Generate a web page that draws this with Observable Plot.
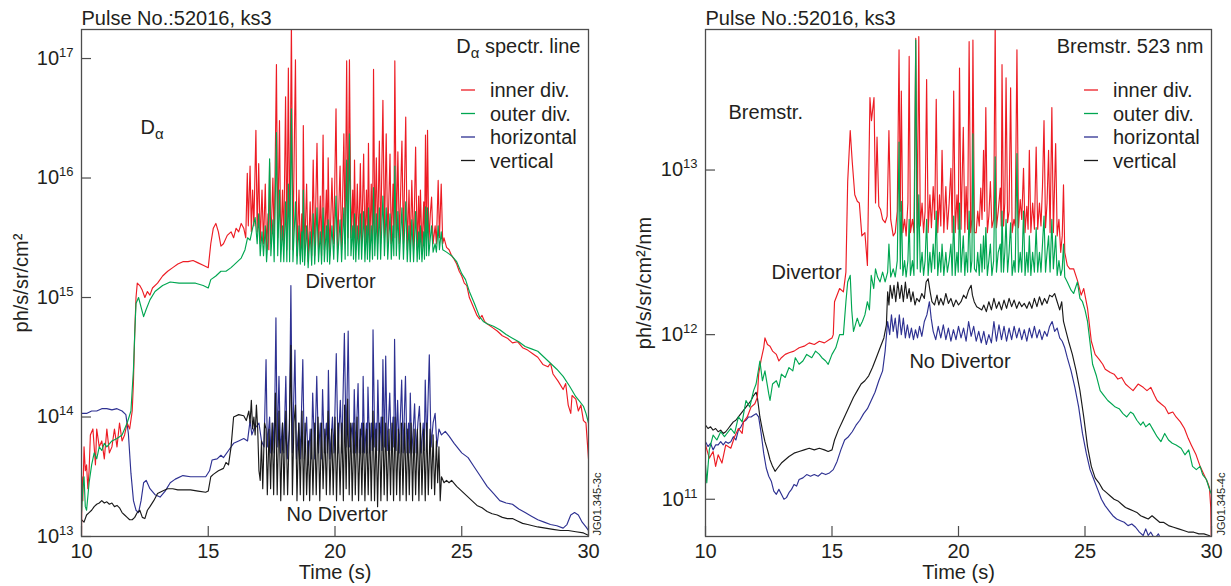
<!DOCTYPE html>
<html>
<head>
<meta charset="utf-8">
<script src="https://cdn.jsdelivr.net/npm/d3@7"></script>
<script src="https://cdn.jsdelivr.net/npm/@observablehq/plot@0.6"></script>
<style>
  html, body { margin: 0; padding: 0; background: #fff; }
  #wrap { display: flex; width: 1231px; height: 586px; }
  #wrap svg { overflow: visible; }
</style>
</head>
<body>
<div id="wrap"></div>
<script>
// ---- Shared categories / ticks ----
const seriesNames = ["inner div.", "outer div.", "horizontal", "vertical"];
const seriesColors = ["#ed1c24", "#00a651", "#2e3192", "#1a1a1a"];
const xTicks = [10, 15, 20, 25, 30];
const timeLabel = "Time (s)";
const pulseLabel = "Pulse No.:52016, ks3";

// ---- Left panel: D-alpha (values are [time s, log10 ph/s/sr/cm²]) ----
const daYTicks = [1e13, 1e14, 1e15, 1e16, 1e17];
const daYDomain = [1e13, 1.75e17];
const daInner = [
[10.0,13.0],[10.02,13.5],[10.05,13.3],[10.1,13.75],[10.15,13.55],[10.2,13.6],[10.25,13.4],[10.3,13.55],[10.35,13.85],[10.45,13.9],[10.55,13.6],[10.6,13.9],[10.7,13.75],[10.8,13.8],[10.9,13.65],[11.0,13.9],[11.1,13.7],[11.2,13.75],[11.3,13.9],[11.4,13.75],[11.5,13.95],[11.6,13.8],[11.7,13.85],[11.8,13.95],[11.9,13.9],[12.0,14.05],[12.05,14.3],[12.1,14.7],[12.15,15.0],[12.2,15.12],[12.3,15.1],[12.4,15.06],[12.5,15.0],[12.6,15.05],[12.7,15.02],[12.8,15.08],[13.0,15.12],[13.2,15.18],[13.4,15.22],[13.6,15.25],[13.8,15.28],[14.0,15.3],[14.2,15.3],[14.4,15.31],[14.6,15.29],[14.8,15.27],[15.0,15.25],
[15.1,15.45],[15.2,15.58],[15.3,15.62],[15.4,15.55],[15.5,15.43],[15.6,15.45],[15.75,15.52],[15.9,15.55],[16.0,15.5],[16.1,15.58],[16.2,15.55],[16.3,15.62],[16.4,15.58],[16.48,15.5],
[16.54,16.04],[16.58,15.6],[16.65,16.1],[16.7,15.55],[16.75,15.9],[16.8,15.6],[16.88,16.4],[16.93,15.55],[16.99,16.12],[17.05,15.45],[17.12,15.9],[17.18,15.45],[17.25,15.95],[17.3,15.4],[17.36,15.7],[17.39,15.4],[17.42,16.13],[17.47,15.45],[17.55,16.0],[17.6,15.45],[17.69,16.95],[17.74,15.5],[17.81,16.48],[17.86,15.4],[17.93,15.9],[17.98,15.45],[18.05,16.68],[18.1,15.4],[18.16,16.92],[18.21,15.4],[18.28,17.3],[18.34,15.4],[18.44,16.99],[18.5,15.35],[18.58,15.9],[18.63,15.35],[18.69,15.7],[18.72,15.4],[18.75,16.44],[18.8,15.35],[18.88,15.95],[18.94,15.3],[19.02,15.8],[19.08,15.35],[19.14,16.15],[19.2,15.35],[19.29,16.29],[19.35,15.4],[19.42,15.85],[19.47,15.35],[19.53,16.36],[19.58,15.4],[19.66,15.9],[19.7,15.4],[19.73,16.17],[19.79,15.35],[19.88,16.0],[19.95,15.45],[20.04,16.58],[20.1,15.4],[20.2,16.1],[20.26,15.4],[20.35,16.37],[20.4,15.45],[20.46,16.98],[20.51,15.5],[20.57,16.99],[20.63,15.5],[20.7,15.9],[20.73,15.45],[20.77,16.15],[20.82,15.4],[20.88,15.95],[20.94,15.45],[21.0,16.12],[21.05,15.45],[21.13,16.2],[21.18,15.4],[21.24,15.9],[21.28,15.45],[21.32,16.29],[21.37,15.4],[21.43,15.95],[21.48,15.45],[21.52,16.91],[21.57,15.5],[21.63,16.17],[21.68,15.45],[21.75,16.31],[21.8,15.45],[21.89,16.65],[21.95,15.5],[22.02,16.37],[22.08,15.45],[22.17,16.2],[22.22,15.45],[22.29,15.95],[22.32,15.5],[22.36,16.98],[22.42,15.5],[22.48,16.22],[22.54,15.45],[22.64,16.31],[22.7,15.45],[22.79,16.51],[22.85,15.4],[22.92,15.9],[22.97,15.4],[23.03,15.98],[23.1,15.4],[23.18,16.26],[23.24,15.4],[23.3,15.85],[23.33,15.45],[23.37,15.9],[23.43,15.4],[23.5,15.8],[23.53,15.45],[23.57,16.36],[23.61,15.5],[23.65,16.4],[23.7,15.45],[23.76,15.7],[23.81,15.84],[23.87,15.45],[23.95,15.6],[24.0,15.45],[24.07,15.98],[24.12,15.5],[24.19,15.95],[24.25,15.45],[24.3,15.5],[24.4,15.42],[24.5,15.4],[24.6,15.35],[24.7,15.32],[24.8,15.28],[24.9,15.22],[25.0,15.18],
[25.1,15.12],[25.2,15.1],[25.3,15.0],[25.4,14.95],[25.5,14.9],[25.6,14.85],[25.7,14.82],[25.8,14.85],[25.9,14.8],[26.0,14.78],[26.2,14.75],[26.4,14.72],[26.6,14.68],[26.8,14.66],[27.0,14.62],[27.2,14.63],[27.4,14.58],[27.6,14.56],[27.8,14.53],[28.0,14.5],[28.2,14.44],[28.4,14.42],[28.5,14.45],[28.6,14.36],[28.8,14.3],[29.0,14.23],[29.1,14.28],[29.2,14.1],[29.3,14.03],[29.35,14.18],[29.5,14.15],[29.6,14.05],[29.7,14.1],[29.8,13.97],[29.9,13.95],[29.95,13.8],[30.0,13.65]
];
const daOuter = [
[10.0,13.2],[10.05,13.4],[10.1,13.5],[10.15,13.25],[10.2,13.22],[10.3,13.45],[10.4,13.6],[10.5,13.7],[10.6,13.65],[10.7,13.75],[10.8,13.72],[10.9,13.78],[11.0,13.75],[11.2,13.8],[11.4,13.82],[11.6,13.85],[11.8,13.95],[11.95,14.05],[12.05,14.4],[12.1,14.7],[12.15,14.95],[12.25,15.0],[12.35,14.92],[12.45,14.84],[12.55,14.9],[12.7,14.98],[12.9,15.05],[13.2,15.1],[13.5,15.13],[13.85,15.12],[14.2,15.12],[14.5,15.12],[14.8,15.1],[15.0,15.08],[15.1,15.15],[15.3,15.18],[15.5,15.22],[15.7,15.22],[15.9,15.25],[16.1,15.29],[16.3,15.33],[16.45,15.4],[16.55,15.5],[16.65,15.48],[16.75,15.58],[16.85,15.67],[16.93,15.45],
[16.99,15.7],[17.05,15.35],[17.12,15.55],[17.18,15.35],[17.25,15.6],[17.3,15.3],[17.36,15.5],[17.42,16.16],[17.47,15.35],[17.55,15.65],[17.6,15.3],[17.69,16.38],[17.74,15.35],[17.81,15.9],[17.86,15.3],[17.93,15.6],[17.98,15.3],[18.05,15.8],[18.1,15.3],[18.16,15.95],[18.21,15.3],[18.28,16.58],[18.34,15.3],[18.44,15.8],[18.5,15.28],[18.58,15.6],[18.63,15.28],[18.69,15.55],[18.72,15.3],[18.75,15.9],[18.8,15.27],[18.88,15.6],[18.94,15.25],[19.02,15.55],[19.08,15.27],[19.14,15.7],[19.2,15.28],[19.29,15.75],[19.35,15.3],[19.42,15.55],[19.47,15.28],[19.53,15.75],[19.58,15.3],[19.66,15.6],[19.7,15.3],[19.73,15.65],[19.79,15.28],[19.88,15.6],[19.95,15.32],[20.04,15.85],[20.1,15.3],[20.2,15.65],[20.26,15.3],[20.35,15.75],[20.4,15.32],[20.46,16.15],[20.51,15.35],[20.57,16.37],[20.63,15.35],[20.7,15.6],[20.73,15.32],[20.77,15.7],[20.82,15.3],[20.88,15.6],[20.94,15.32],[21.0,15.7],[21.05,15.32],[21.13,15.72],[21.18,15.3],[21.24,15.6],[21.28,15.32],[21.32,15.75],[21.37,15.3],[21.43,15.6],[21.48,15.32],[21.52,15.92],[21.57,15.35],[21.63,15.7],[21.68,15.32],[21.75,15.75],[21.8,15.32],[21.89,15.85],[21.95,15.35],[22.02,15.75],[22.08,15.32],[22.17,15.7],[22.22,15.32],[22.29,15.6],[22.32,15.35],[22.36,16.1],[22.42,15.35],[22.48,15.72],[22.54,15.32],[22.64,15.75],[22.7,15.32],[22.79,15.8],[22.85,15.3],[22.92,15.6],[22.97,15.3],[23.03,15.65],[23.1,15.3],[23.18,15.72],[23.24,15.3],[23.3,15.55],[23.33,15.32],[23.37,15.6],[23.43,15.3],[23.5,15.55],[23.53,15.32],[23.57,15.76],[23.61,15.35],[23.65,15.75],[23.7,15.35],[23.76,15.5],[23.81,15.6],[23.87,15.38],[23.95,15.45],[24.0,15.38],[24.07,15.6],[24.12,15.4],[24.19,15.55],[24.25,15.4],[24.4,15.38],[24.6,15.35],[24.8,15.3],[25.0,15.2],[25.15,15.15],[25.3,15.05],[25.5,14.95],[25.7,14.84],[25.85,14.8],[26.0,14.78],[26.25,14.76],[26.5,14.73],[26.75,14.69],[27.0,14.66],[27.25,14.63],[27.5,14.59],[27.75,14.57],[28.0,14.55],[28.25,14.5],[28.5,14.45],[28.75,14.4],[29.0,14.34],[29.25,14.26],[29.5,14.17],[29.65,14.13],[29.8,14.09],[29.9,14.03],[30.0,13.95]
];
const daHoriz = [
[10.0,14.03],[10.2,14.03],[10.4,14.05],[10.6,14.05],[10.8,14.07],[11.0,14.07],[11.2,14.06],[11.4,14.07],[11.6,14.05],[11.75,14.02],[11.85,13.86],[11.95,13.53],[12.05,13.3],[12.15,13.22],[12.25,13.2],[12.35,13.3],[12.45,13.45],[12.55,13.47],[12.7,13.4],[12.9,13.35],[13.1,13.33],[13.3,13.38],[13.5,13.45],[13.7,13.48],[14.0,13.51],[14.3,13.5],[14.6,13.5],[14.9,13.5],[15.05,13.55],[15.15,13.64],[15.35,13.65],[15.5,13.68],[15.6,13.66],[15.8,13.72],[16.0,13.78],[16.2,13.8],[16.4,13.82],[16.55,13.8],[16.65,13.97],[16.72,13.85],[16.8,13.9],[16.9,13.92],[17.0,13.95],[17.1,13.8],[17.2,13.75],[17.28,14.48],[17.33,13.75],
[17.42,14.0],[17.47,13.7],[17.55,13.95],[17.6,13.7],[17.67,14.83],[17.72,13.75],[17.79,14.34],[17.85,13.7],[17.93,13.95],[17.98,13.7],[18.06,14.34],[18.12,13.65],[18.2,13.9],[18.26,15.1],[18.32,13.7],[18.42,14.56],[18.48,13.65],[18.58,13.95],[18.63,13.65],[18.73,14.48],[18.79,13.65],[18.88,14.0],[18.94,13.6],[19.02,13.9],[19.07,13.65],[19.12,14.2],[19.2,13.65],[19.28,14.34],[19.35,13.7],[19.42,13.95],[19.46,13.65],[19.51,14.23],[19.58,13.7],[19.66,13.95],[19.7,13.7],[19.74,14.39],[19.8,13.65],[19.9,14.0],[19.96,13.7],[20.05,14.53],[20.12,13.7],[20.21,14.14],[20.27,13.7],[20.37,14.7],[20.44,13.75],[20.52,14.72],[20.58,13.75],[20.68,13.95],[20.72,13.7],[20.76,14.23],[20.82,13.7],[20.91,14.28],[20.96,13.7],[21.05,13.95],[21.08,13.7],[21.11,14.34],[21.17,13.7],[21.24,13.95],[21.27,13.7],[21.3,14.25],[21.37,13.7],[21.44,13.95],[21.47,13.72],[21.5,14.73],[21.57,13.75],[21.62,13.95],[21.65,13.72],[21.69,14.31],[21.75,13.72],[21.82,14.0],[21.85,13.72],[21.89,14.48],[21.95,13.75],[22.0,14.51],[22.06,13.72],[22.16,14.2],[22.22,13.72],[22.29,14.0],[22.32,13.75],[22.35,14.65],[22.41,13.72],[22.47,14.14],[22.53,13.7],[22.63,14.31],[22.69,13.7],[22.78,14.34],[22.84,13.7],[22.9,13.95],[22.93,13.7],[22.97,14.2],[23.03,13.7],[23.1,13.95],[23.14,14.11],[23.2,13.7],[23.27,13.95],[23.33,14.09],[23.4,13.7],[23.48,13.95],[23.52,13.72],[23.56,14.31],[23.62,13.75],[23.72,14.52],[23.79,13.75],[23.87,13.95],[23.95,14.03],[24.02,13.75],[24.1,13.9],[24.2,13.85],[24.35,13.88],[24.5,13.84],[24.7,13.78],[25.0,13.7],[25.25,13.66],[25.5,13.58],[25.75,13.5],[26.0,13.42],[26.25,13.36],[26.5,13.3],[26.75,13.28],[27.0,13.27],[27.25,13.23],[27.5,13.2],[27.75,13.17],[28.0,13.14],[28.25,13.12],[28.5,13.1],[28.75,13.09],[29.0,13.07],[29.15,13.1],[29.3,13.18],[29.45,13.2],[29.6,13.18],[29.75,13.12],[29.9,13.08],[30.0,13.05]
];
const daVert = [
[10.0,13.14],[10.1,13.12],[10.2,13.18],[10.3,13.2],[10.4,13.22],[10.5,13.25],[10.6,13.27],[10.7,13.28],[10.8,13.3],[10.9,13.28],[11.0,13.29],[11.1,13.27],[11.2,13.28],[11.3,13.25],[11.4,13.26],[11.5,13.24],[11.6,13.2],[11.7,13.18],[11.8,13.16],[11.9,13.14],[12.0,13.14],[12.1,13.16],[12.2,13.2],[12.3,13.22],[12.4,13.16],[12.5,13.15],[12.6,13.22],[12.7,13.25],[12.85,13.3],[13.0,13.36],[13.2,13.38],[13.4,13.4],[13.6,13.4],[13.8,13.39],[14.0,13.39],[14.3,13.39],[14.6,13.38],[14.9,13.37],[15.0,13.38],[15.1,13.5],[15.2,13.52],[15.4,13.55],[15.6,13.57],[15.7,13.62],[15.8,13.6],[15.9,13.75],[16.0,14.0],[16.2,14.02],[16.4,14.01],[16.5,13.97],[16.6,14.05],[16.65,13.95],[16.7,14.14],[16.75,13.9],[16.8,14.0],[16.85,13.85],[16.9,14.1],[16.95,13.9],[17.0,13.55],[17.05,13.47],[17.1,13.8],
[17.15,13.4],[17.22,13.95],[17.28,13.9],[17.33,13.35],[17.4,13.9],[17.46,13.4],[17.52,13.95],[17.58,13.35],[17.65,14.2],[17.72,13.35],[17.79,14.05],[17.86,13.3],[17.93,13.95],[17.99,13.35],[18.06,14.05],[18.13,13.35],[18.2,13.9],[18.26,14.6],[18.32,13.35],[18.38,13.95],[18.44,14.1],[18.5,13.3],[18.57,13.95],[18.63,13.35],[18.7,14.05],[18.76,13.3],[18.82,13.95],[18.88,13.35],[18.95,13.8],[19.0,13.3],[19.07,13.9],[19.13,13.35],[19.2,13.95],[19.26,13.35],[19.33,14.0],[19.4,13.3],[19.47,13.95],[19.53,13.4],[19.6,13.9],[19.66,13.35],[19.73,14.05],[19.8,13.35],[19.87,13.9],[19.93,13.35],[20.0,14.0],[20.06,13.3],[20.13,13.95],[20.2,13.35],[20.27,13.95],[20.33,13.3],[20.38,14.1],[20.44,13.4],[20.5,14.15],[20.56,13.35],[20.62,13.95],[20.68,13.3],[20.75,13.95],[20.8,13.35],[20.87,14.0],[20.93,13.3],[21.0,13.9],[21.06,13.35],[21.12,13.95],[21.18,13.3],[21.25,13.9],[21.31,13.35],[21.37,13.95],[21.43,13.3],[21.5,14.05],[21.56,13.3],[21.62,13.9],[21.68,13.25],[21.75,13.95],[21.81,13.3],[21.88,14.0],[21.94,13.35],[22.0,13.95],[22.06,13.3],[22.13,13.9],[22.19,13.35],[22.25,13.95],[22.31,13.3],[22.37,14.0],[22.43,13.35],[22.5,13.9],[22.56,13.3],[22.62,13.95],[22.68,13.35],[22.75,13.95],[22.81,13.3],[22.87,13.9],[22.93,13.35],[23.0,13.95],[23.06,13.3],[23.12,13.9],[23.18,13.35],[23.25,13.9],[23.31,13.3],[23.37,13.95],[23.43,13.35],[23.5,13.9],[23.56,13.3],[23.62,13.95],[23.68,13.35],[23.75,13.9],[23.81,13.4],[23.87,13.85],[23.93,13.35],[24.0,13.8],[24.05,13.45],[24.1,13.75],[24.15,13.3],[24.2,13.5],[24.3,13.45],[24.4,13.47],[24.5,13.45],[24.6,13.47],[24.8,13.42],[25.0,13.38],[25.2,13.34],[25.4,13.3],[25.6,13.26],[25.8,13.24],[26.0,13.21],[26.2,13.19],[26.4,13.18],[26.6,13.16],[26.8,13.15],[27.0,13.15],[27.2,13.13],[27.4,13.11],[27.6,13.1],[27.8,13.09],[28.0,13.08],[28.3,13.07],[28.6,13.06],[28.9,13.05],[29.2,13.05],[29.5,13.04],[29.8,13.03],[30.0,13.01]
];
const daNotes = [
  {t: 12.33, v: 2.34e16, label: "D_α"},
  {t: 18.84, v: 1.2e15, label: "Divertor"},
  {t: 18.09, v: 1.35e13, label: "No Divertor"}
];

// ---- Right panel: Bremsstrahlung 523 nm (values are [time s, log10 ph/s/sr/cm²/nm]) ----
const brYTicks = [1e11, 1e12, 1e13];
const brYDomain = [5.94e10, 7.14e13];
const brInner = [
[10.0,11.33],[10.15,11.25],[10.3,11.29],[10.4,11.2],[10.5,11.27],[10.65,11.22],[10.8,11.33],[11.0,11.31],[11.15,11.38],[11.3,11.43],[11.45,11.4],[11.5,11.47],[11.65,11.5],[11.8,11.56],[11.95,11.58],[12.05,11.62],[12.1,11.76],[12.2,11.85],[12.3,11.92],[12.35,11.98],[12.45,11.94],[12.55,11.93],[12.65,11.9],[12.8,11.88],[12.9,11.84],[13.0,11.86],[13.15,11.88],[13.3,11.89],[13.5,11.9],[13.7,11.92],[13.9,11.93],[14.1,11.95],[14.3,11.94],[14.5,11.96],[14.7,11.95],[14.9,11.97],[15.0,11.98],[15.05,12.0],[15.1,12.2],[15.3,12.28],[15.45,12.26],[15.55,12.38],[15.62,12.93],[15.72,13.24],[15.8,13.05],[15.9,12.85],[16.0,12.81],[16.08,12.8],[16.18,12.6],[16.3,12.62],[16.4,12.42],[16.5,13.44],[16.56,13.3],[16.66,13.44],[16.72,12.8],[16.78,13.2],[16.85,12.78],[16.92,12.76],[17.0,12.7],[17.1,12.68],[17.18,12.72],
[17.25,13.24],[17.32,12.7],[17.42,12.6],[17.5,12.62],[17.58,12.75],[17.65,13.73],[17.7,12.75],[17.74,13.48],[17.8,12.62],[17.87,12.7],[17.93,12.6],[18.0,12.8],[18.05,13.69],[18.1,12.62],[18.18,12.7],[18.24,12.62],[18.31,13.8],[18.37,12.65],[18.43,13.81],[18.49,12.66],[18.56,12.8],[18.62,12.62],[18.68,12.75],[18.74,13.55],[18.8,12.62],[18.87,12.85],[18.93,12.65],[19.0,12.9],[19.06,12.7],[19.12,13.43],[19.18,12.62],[19.25,12.85],[19.3,12.66],[19.35,13.12],[19.42,12.62],[19.5,12.9],[19.56,12.64],[19.63,12.8],[19.7,13.01],[19.75,12.62],[19.81,13.48],[19.87,12.62],[19.94,12.85],[19.99,12.64],[20.04,13.62],[20.1,12.64],[20.19,13.26],[20.25,12.62],[20.3,12.9],[20.36,12.64],[20.42,13.78],[20.48,12.62],[20.53,12.7],[20.57,13.79],[20.63,12.62],[20.7,12.62],[20.76,12.75],[20.82,12.66],[20.88,12.89],[20.93,12.7],[20.99,13.12],[21.03,12.75],[21.08,13.38],[21.14,12.62],[21.2,12.72],[21.26,12.93],[21.32,12.65],[21.39,12.7],[21.45,13.9],[21.5,12.65],[21.57,12.75],[21.65,12.89],[21.69,12.66],[21.72,13.64],[21.78,12.66],[21.83,12.8],[21.88,13.56],[21.94,12.68],[22.0,12.75],[22.06,13.5],[22.12,12.62],[22.19,12.7],[22.24,12.66],[22.31,13.73],[22.37,12.65],[22.44,12.82],[22.5,12.7],[22.57,13.01],[22.63,12.62],[22.7,12.78],[22.75,12.64],[22.8,13.12],[22.86,12.62],[22.93,12.8],[23.0,12.64],[23.07,13.14],[23.13,12.64],[23.2,12.8],[23.26,12.66],[23.32,12.9],[23.38,13.3],[23.44,12.65],[23.5,12.8],[23.56,13.12],[23.62,12.62],[23.69,13.38],[23.75,12.62],[23.84,13.16],[23.9,12.6],[23.97,12.7],[24.04,12.5],[24.1,12.6],[24.15,12.91],[24.2,12.5],[24.3,12.42],[24.4,12.4],[24.55,12.4],[24.7,12.33],[24.85,12.24],[24.95,12.28],
[25.1,12.16],[25.25,11.96],[25.4,11.88],[25.56,11.85],[25.7,11.82],[25.8,11.79],[26.0,11.77],[26.15,11.76],[26.3,11.73],[26.45,11.74],[26.6,11.7],[26.75,11.68],[26.9,11.66],[27.1,11.7],[27.3,11.68],[27.45,11.66],[27.6,11.68],[27.75,11.63],[27.85,11.6],[28.0,11.58],[28.16,11.56],[28.3,11.52],[28.47,11.53],[28.6,11.5],[28.77,11.47],[28.93,11.43],[29.08,11.37],[29.2,11.33],[29.39,11.27],[29.55,11.2],[29.7,11.15],[29.85,11.1],[29.92,11.07],[29.97,10.95],[30.0,10.7]
];
const brOuter = [
[10.0,11.21],[10.05,11.1],[10.15,11.3],[10.3,11.39],[10.45,11.36],[10.6,11.41],[10.75,11.38],[11.0,11.43],[11.15,11.4],[11.3,11.5],[11.45,11.47],[11.6,11.6],[11.75,11.56],[11.9,11.66],[12.0,11.7],[12.15,11.84],[12.25,11.72],[12.35,11.78],[12.5,11.64],[12.55,11.6],[12.65,11.7],[12.8,11.72],[12.9,11.68],[13.0,11.76],[13.15,11.74],[13.3,11.8],[13.45,11.78],[13.55,11.86],[13.7,11.82],[13.85,11.84],[14.0,11.88],[14.2,11.86],[14.35,11.9],[14.5,11.88],[14.6,11.86],[14.75,11.84],[14.85,11.82],[15.0,11.88],[15.15,11.92],[15.3,12.0],[15.45,12.0],[15.55,12.2],[15.62,12.32],[15.72,12.36],[15.78,12.15],[15.85,12.02],[16.0,12.1],[16.1,12.05],[16.2,12.08],[16.3,12.12],[16.4,12.2],[16.48,12.15],[16.55,12.36],[16.65,12.28],[16.72,12.4],[16.8,12.35],[16.9,12.32],[17.0,12.38],[17.1,12.32],[17.2,12.38],
[17.25,12.55],[17.32,12.35],[17.42,12.4],[17.5,12.35],[17.58,12.45],[17.65,13.17],[17.7,12.4],[17.74,12.81],[17.8,12.36],[17.87,12.45],[17.93,12.35],[18.0,12.45],[18.05,12.7],[18.1,12.36],[18.18,12.45],[18.24,12.36],[18.31,13.79],[18.37,12.4],[18.43,12.85],[18.49,12.38],[18.56,12.5],[18.62,12.36],[18.68,12.45],[18.74,12.7],[18.8,12.36],[18.87,12.5],[18.93,12.38],[19.0,12.55],[19.06,12.4],[19.12,12.75],[19.18,12.36],[19.25,12.5],[19.3,12.38],[19.35,12.55],[19.42,12.36],[19.5,12.5],[19.56,12.38],[19.63,12.45],[19.7,12.55],[19.75,12.36],[19.81,12.72],[19.87,12.36],[19.94,12.5],[19.99,12.38],[20.04,12.8],[20.1,12.38],[20.19,12.6],[20.25,12.36],[20.3,12.5],[20.36,12.38],[20.42,12.75],[20.48,12.38],[20.53,12.45],[20.57,13.22],[20.63,12.4],[20.7,12.38],[20.76,12.5],[20.82,12.36],[20.88,12.55],[20.93,12.38],[20.99,12.6],[21.03,12.4],[21.08,12.65],[21.14,12.36],[21.2,12.45],[21.26,12.55],[21.32,12.36],[21.39,12.45],[21.45,13.08],[21.5,12.38],[21.57,12.5],[21.65,12.55],[21.69,12.38],[21.72,12.75],[21.78,12.38],[21.83,12.5],[21.88,12.7],[21.94,12.38],[22.0,12.5],[22.06,12.68],[22.12,12.36],[22.19,12.45],[22.24,12.38],[22.31,13.1],[22.37,12.38],[22.44,12.5],[22.5,12.38],[22.57,12.75],[22.63,12.36],[22.7,12.5],[22.75,12.38],[22.8,12.6],[22.86,12.36],[22.93,12.5],[23.0,12.38],[23.07,12.65],[23.13,12.38],[23.2,12.5],[23.26,12.38],[23.32,12.55],[23.38,12.72],[23.44,12.38],[23.5,12.5],[23.56,12.6],[23.62,12.38],[23.69,12.7],[23.75,12.4],[23.84,12.6],[23.9,12.36],[23.97,12.45],[24.04,12.36],[24.1,12.4],[24.15,12.55],[24.2,12.35],[24.3,12.32],[24.45,12.27],[24.55,12.25],[24.7,12.32],[24.8,12.22],[24.9,12.2],[25.0,12.15],[25.1,12.08],[25.2,11.95],[25.3,11.82],[25.45,11.75],[25.6,11.66],[25.75,11.63],[25.9,11.6],[26.05,11.58],[26.2,11.56],[26.35,11.55],[26.5,11.52],[26.65,11.5],[26.8,11.53],[26.9,11.52],[27.05,11.48],[27.2,11.45],[27.3,11.47],[27.4,11.44],[27.55,11.46],[27.7,11.42],[27.85,11.38],[28.0,11.35],[28.15,11.4],[28.3,11.36],[28.45,11.34],[28.6,11.33],[28.8,11.31],[28.95,11.27],[29.1,11.3],[29.25,11.2],[29.4,11.18],[29.55,11.2],[29.65,11.15],[29.8,11.12],[29.9,11.07],[30.0,11.03]
];
const brHoriz = [
[10.0,11.35],[10.1,11.32],[10.2,11.34],[10.3,11.3],[10.4,11.33],[10.5,11.33],[10.6,11.35],[10.7,11.33],[10.8,11.35],[10.9,11.34],[11.0,11.35],[11.1,11.38],[11.2,11.36],[11.3,11.42],[11.4,11.44],[11.5,11.47],[11.6,11.48],[11.7,11.5],[11.8,11.5],[11.9,11.51],[12.0,11.52],[12.1,11.5],[12.2,11.4],[12.3,11.28],[12.4,11.19],[12.5,11.14],[12.6,11.11],[12.7,11.05],[12.8,11.03],[12.9,11.06],[13.0,11.03],[13.1,11.0],[13.2,11.01],[13.3,11.04],[13.4,11.06],[13.5,11.09],[13.6,11.08],[13.7,11.12],[13.85,11.13],[14.0,11.15],[14.15,11.14],[14.3,11.15],[14.45,11.14],[14.6,11.16],[14.75,11.15],[14.9,11.16],[15.05,11.18],[15.2,11.23],[15.35,11.3],[15.5,11.36],[15.65,11.38],[15.8,11.41],[15.95,11.45],[16.1,11.48],[16.25,11.52],[16.4,11.55],[16.55,11.6],[16.7,11.65],[16.85,11.72],[17.0,11.78],[17.1,11.9],[17.2,12.08],[17.28,12.0],[17.35,12.12],[17.42,12.02],[17.5,12.1],[17.58,11.98],[17.66,12.12],[17.74,12.0],[17.82,12.1],[17.9,11.98],[17.98,12.06],[18.06,11.98],[18.14,12.04],[18.22,11.97],[18.3,12.03],[18.38,11.98],[18.46,12.05],[18.55,11.99],[18.65,12.08],[18.75,12.12],[18.85,12.2],[18.92,12.1],[19.0,12.02],[19.1,11.97],[19.2,12.05],[19.3,11.98],[19.4,12.06],[19.5,11.97],[19.6,12.04],[19.7,11.96],[19.8,12.03],[19.9,11.97],[20.0,12.05],[20.1,11.98],[20.2,12.04],[20.3,11.96],[20.4,12.08],[20.5,11.99],[20.6,12.05],[20.7,11.96],[20.8,12.02],[20.9,11.95],[21.0,12.02],[21.1,11.94],[21.2,12.0],[21.3,11.95],[21.4,12.08],[21.5,11.96],[21.6,12.06],[21.7,11.97],[21.8,12.05],[21.9,11.96],[22.0,12.04],[22.1,11.97],[22.2,12.05],[22.3,11.98],[22.4,12.04],[22.5,11.97],[22.6,12.03],[22.7,11.96],[22.8,12.04],[22.9,11.98],[23.0,12.05],[23.1,11.98],[23.2,12.03],[23.3,11.97],[23.4,12.02],[23.5,11.99],[23.6,12.05],[23.7,12.08],[23.8,12.02],[23.9,12.04],[24.0,11.98],[24.1,11.96],[24.2,11.92],[24.3,11.86],[24.45,11.78],[24.6,11.68],[24.75,11.56],[24.9,11.4],[25.05,11.28],[25.2,11.18],[25.35,11.12],[25.5,11.06],[25.65,11.0],[25.8,10.96],[25.95,10.93],[26.1,10.9],[26.25,10.88],[26.4,10.87],[26.55,10.86],[26.7,10.84],[26.85,10.85],[27.0,10.83],[27.15,10.8],[27.3,10.78],[27.4,10.82],[27.5,10.78],[27.6,10.8],[27.75,10.76],[27.9,10.79],[28.05,10.74],[28.2,10.72],[28.5,10.7],[29.0,10.68],[29.5,10.66],[30.0,10.65]
];
const brVert = [
[10.0,11.45],[10.1,11.43],[10.2,11.44],[10.3,11.42],[10.4,11.43],[10.5,11.41],[10.6,11.42],[10.7,11.4],[10.8,11.41],[10.9,11.43],[11.0,11.45],[11.1,11.47],[11.2,11.48],[11.3,11.5],[11.4,11.52],[11.5,11.54],[11.6,11.56],[11.7,11.58],[11.8,11.6],[11.9,11.63],[12.0,11.65],[12.05,11.62],[12.15,11.5],[12.25,11.42],[12.35,11.35],[12.45,11.3],[12.55,11.24],[12.65,11.2],[12.75,11.17],[12.85,11.19],[13.0,11.22],[13.15,11.24],[13.3,11.26],[13.5,11.28],[13.7,11.29],[13.9,11.3],[14.1,11.31],[14.3,11.3],[14.5,11.31],[14.7,11.3],[14.85,11.29],[15.0,11.3],[15.1,11.36],[15.25,11.42],[15.4,11.47],[15.55,11.52],[15.7,11.57],[15.85,11.62],[16.0,11.66],[16.15,11.7],[16.3,11.72],[16.45,11.75],[16.6,11.8],[16.75,11.86],[16.9,11.92],[17.05,11.98],[17.15,12.06],[17.2,12.26],[17.25,12.18],[17.3,12.3],[17.38,12.22],[17.45,12.3],[17.52,12.2],[17.6,12.32],[17.68,12.22],[17.75,12.3],[17.82,12.2],[17.9,12.32],[17.97,12.22],[18.05,12.28],[18.12,12.2],[18.2,12.26],[18.28,12.18],[18.35,12.22],[18.45,12.2],[18.55,12.25],[18.65,12.22],[18.72,12.32],[18.8,12.34],[18.88,12.26],[18.95,12.2],[19.05,12.18],[19.15,12.24],[19.22,12.18],[19.3,12.22],[19.4,12.18],[19.5,12.25],[19.6,12.19],[19.7,12.22],[19.8,12.17],[19.9,12.21],[20.0,12.18],[20.1,12.2],[20.2,12.24],[20.3,12.22],[20.4,12.27],[20.5,12.3],[20.55,12.24],[20.62,12.2],[20.72,12.17],[20.82,12.16],[20.92,12.15],[21.0,12.18],[21.1,12.14],[21.2,12.2],[21.3,12.15],[21.4,12.22],[21.5,12.16],[21.6,12.2],[21.7,12.15],[21.8,12.21],[21.9,12.16],[22.0,12.22],[22.1,12.17],[22.2,12.21],[22.3,12.16],[22.4,12.2],[22.5,12.17],[22.6,12.19],[22.7,12.16],[22.8,12.2],[22.9,12.16],[23.0,12.22],[23.1,12.17],[23.2,12.23],[23.3,12.18],[23.4,12.22],[23.5,12.19],[23.6,12.24],[23.7,12.23],[23.8,12.25],[23.9,12.2],[24.0,12.15],[24.08,12.2],[24.15,12.08],[24.25,12.02],[24.35,11.96],[24.5,11.88],[24.65,11.78],[24.8,11.66],[24.95,11.5],[25.1,11.32],[25.25,11.2],[25.4,11.13],[25.55,11.1],[25.7,11.06],[25.85,11.04],[26.0,11.02],[26.15,11.0],[26.3,10.99],[26.45,10.97],[26.6,10.95],[26.75,10.94],[26.9,10.93],[27.05,10.92],[27.2,10.9],[27.35,10.89],[27.5,10.88],[27.65,10.9],[27.8,10.88],[27.95,10.86],[28.1,10.86],[28.3,10.84],[28.5,10.83],[28.7,10.82],[28.9,10.81],[29.1,10.8],[29.3,10.8],[29.5,10.79],[29.7,10.79],[29.9,10.78],[30.0,10.77]
];
const brNotes = [
  {t: 10.91, v: 2.04e13, label: "Bremstr."},
  {t: 12.61, v: 2.19e12, label: "Divertor"},
  {t: 18.06, v: 6.3e11, label: "No Divertor"}
];

// ---- Drawing ----
const FONT = "'Liberation Sans', Arial, Helvetica, sans-serif";
const H = 586, MT = 29, MB = 50;
const NS = "http://www.w3.org/2000/svg";

function richText(svg) {
  svg.querySelectorAll("text").forEach(t => {
    const s = t.textContent;
    if (s.includes("^")) {
      const [b, e] = s.split("^");
      t.textContent = "";
      const a = document.createElementNS(NS, "tspan");
      a.textContent = b; t.appendChild(a);
      const c = document.createElementNS(NS, "tspan");
      c.textContent = e; c.setAttribute("dy", "-8"); c.setAttribute("font-size", "13px");
      t.appendChild(c);
    } else if (s.includes("_α")) {
      const [b, rest] = s.split("_α");
      t.textContent = "";
      const a = document.createElementNS(NS, "tspan");
      a.textContent = b; t.appendChild(a);
      const c = document.createElementNS(NS, "tspan");
      c.textContent = "α"; c.setAttribute("dy", "5"); c.setAttribute("font-size", "15px");
      t.appendChild(c);
      if (rest) {
        const d = document.createElementNS(NS, "tspan");
        d.textContent = rest; d.setAttribute("dy", "-5");
        t.appendChild(d);
      }
    }
  });
}

function panel(cfg) {
  const {width, marginLeft, marginRight, yDomain, yTicks, series, notes, heading, yLabel, code, yLabelDx, codeDx} = cfg;
  const frameW = width - marginLeft - marginRight;
  const frameH = H - MT - MB;
  const rows = arr => arr.map(([t, e]) => ({t, v: 10 ** e}));
  const order = [2, 3, 0, 1];
  const svg = Plot.plot({
    width, height: H,
    marginLeft, marginRight, marginTop: MT, marginBottom: MB,
    style: {fontFamily: FONT, fontSize: "20px", color: "#231f20", background: "#fff", overflow: "visible"},
    x: {domain: [10, 30]},
    y: {type: "log", domain: yDomain},
    marks: [
      ...order.map(i => Plot.line(rows(series[i]), {x: "t", y: "v", stroke: seriesColors[i], strokeWidth: 1.15, clip: true})),
      Plot.frame({stroke: "#4d4d4d", strokeWidth: 1.3}),
      Plot.tickY(yTicks, {y: d => d, insetRight: frameW - 10, stroke: "#4d4d4d", strokeWidth: 1.2}),
      Plot.tickX(xTicks, {x: d => d, insetTop: frameH - 10, stroke: "#4d4d4d", strokeWidth: 1.2}),
      Plot.axisX({ticks: xTicks, tickSize: 0, tickPadding: 7, label: null, tickFormat: d => String(d), fontSize: 20}),
      Plot.axisY({ticks: yTicks, tickSize: 0, tickPadding: 8, label: null, tickFormat: d => "10^" + Math.round(Math.log10(d)), fontSize: 20}),
      Plot.text(notes, {x: "t", y: "v", text: "label", textAnchor: "start", lineAnchor: "bottom", fontSize: 20}),
      Plot.text([pulseLabel], {frameAnchor: "top-left", dy: -5, lineAnchor: "bottom", textAnchor: "start", fontSize: 20}),
      Plot.text([heading], {frameAnchor: "top-right", dx: -8, dy: 23, lineAnchor: "bottom", textAnchor: "end", fontSize: 20}),
      Plot.text([timeLabel], {frameAnchor: "bottom", dy: 42, lineAnchor: "bottom", fontSize: 20}),
      Plot.text([yLabel], {frameAnchor: "left", dx: yLabelDx, rotate: -90, lineAnchor: "bottom", textAnchor: "middle", fontSize: 20}),
      Plot.text([code], {frameAnchor: "bottom-right", dx: codeDx, dy: -1, rotate: -90, lineAnchor: "bottom", textAnchor: "start", fontSize: 11})
    ]
  });
  richText(svg);
  // legend
  const right = width - marginRight;
  const g = d3.select(svg).append("g")
    .attr("font-size", 20).attr("font-family", FONT).attr("fill", "#231f20").attr("text-anchor", "start");
  seriesNames.forEach((name, i) => {
    const y = 90 + i * 23.5;
    g.append("line").attr("x1", right - 127).attr("x2", right - 113).attr("y1", y).attr("y2", y)
      .attr("stroke", seriesColors[i]).attr("stroke-width", 1.3);
    g.append("text").attr("x", right - 98).attr("y", y + 7).attr("text-anchor", "start").text(name);
  });
  return svg;
}

const wrap = document.getElementById("wrap");
wrap.appendChild(panel({
  width: 615, marginLeft: 81, marginRight: 27,
  yDomain: daYDomain, yTicks: daYTicks,
  series: [daInner, daOuter, daHoriz, daVert], notes: daNotes,
  heading: "D_α spectr. line", yLabel: "ph/s/sr/cm²", code: "JG01.345-3c",
  yLabelDx: -54, codeDx: 12
}));
wrap.appendChild(panel({
  width: 616, marginLeft: 90, marginRight: 20,
  yDomain: brYDomain, yTicks: brYTicks,
  series: [brInner, brOuter, brHoriz, brVert], notes: brNotes,
  heading: "Bremstr. 523 nm", yLabel: "ph/s/sr/cm²/nm", code: "JG01.345-4c",
  yLabelDx: -55, codeDx: 13
}));
</script>
</body>
</html>
